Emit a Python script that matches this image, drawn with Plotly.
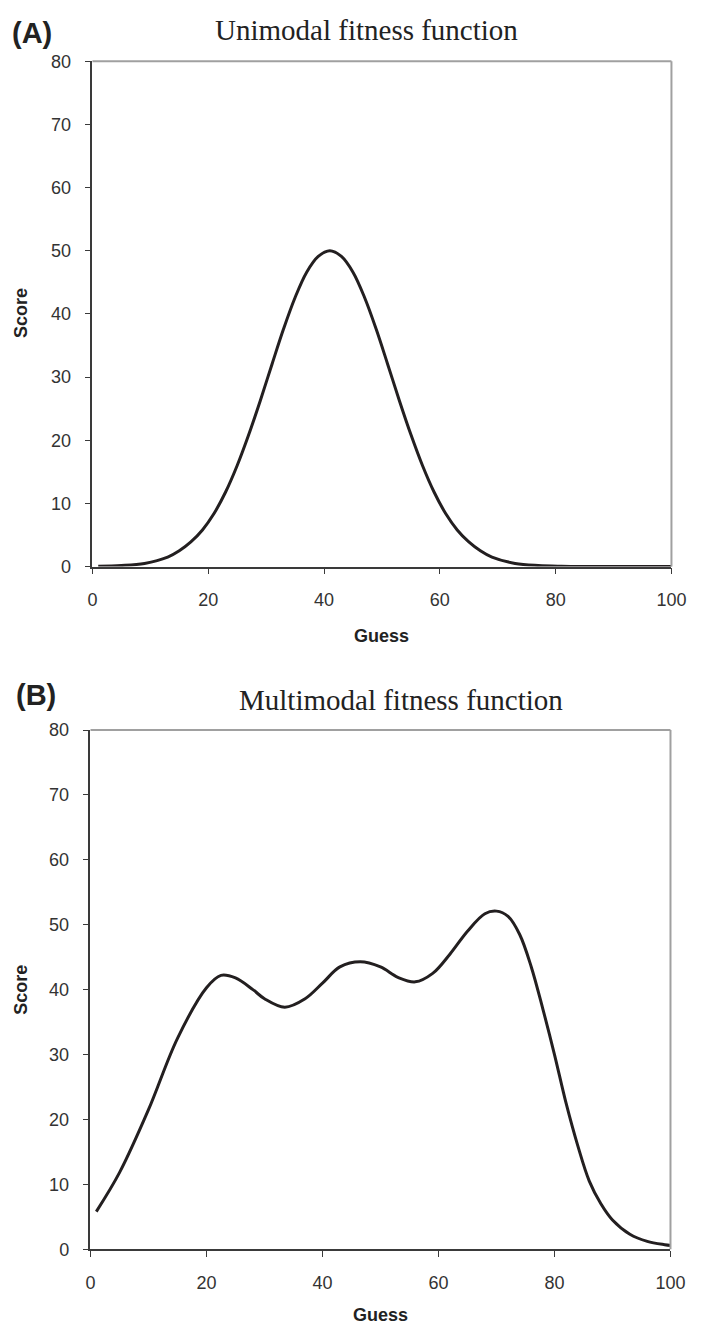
import plotly.graph_objects as go

# Panel A: unimodal fitness function
guess_a = [1, 5, 9, 13, 15, 17, 19, 21, 23, 25, 27, 29, 31, 33, 35, 37, 39, 41,
           43, 45, 47, 49, 51, 53, 55, 57, 59, 61, 63, 65, 67, 69, 73, 77, 81, 85, 90, 95, 101]
score_a = [0.04, 0.16, 0.5, 1.5, 2.5, 3.9, 5.8, 8.4, 11.8, 16.0, 20.9, 26.3, 32.0, 37.6, 42.6, 46.6, 49.1, 50.0,
           49.1, 46.6, 42.6, 37.6, 32.0, 26.3, 20.9, 16.0, 11.8, 8.4, 5.8, 3.9, 2.5, 1.5, 0.5, 0.16, 0.04, 0.0, 0.0, 0.0, 0.0]

# Panel B: multimodal fitness function
guess_b = [1, 5, 10, 15, 20, 22.5, 25, 28, 30, 33.5, 37, 40, 43, 46.5, 50, 53, 56, 59,
           62, 65, 68, 70, 72, 74, 76, 78, 80, 82, 84, 86, 88, 90, 93, 96, 99, 101]
score_b = [5.8, 11.8, 21.5, 32.5, 40.3, 42.2, 41.8, 40.0, 38.6, 37.3, 38.6, 41.0, 43.5, 44.3, 43.5, 41.9, 41.2, 42.5,
           45.5, 49.0, 51.7, 52.1, 51.3, 48.5, 43.5, 37.0, 30.0, 22.5, 16.0, 10.5, 7.0, 4.5, 2.3, 1.2, 0.7, 0.5]

x_ticks = [0, 20, 40, 60, 80, 100]
y_ticks = [0, 10, 20, 30, 40, 50, 60, 70, 80]
titles = ["Unimodal fitness function", "Multimodal fitness function"]
panel_labels = ["(A)", "(B)"]

W, H = 702, 1339
def px(x): return x / W
def py(y): return 1 - y / H

fig = go.Figure()
line_style = dict(color="#231f20", width=3, shape="spline", smoothing=1.0)
fig.add_trace(go.Scatter(x=guess_a, y=score_a, mode="lines", line=line_style,
                         xaxis="x", yaxis="y", showlegend=False))
fig.add_trace(go.Scatter(x=guess_b, y=score_b, mode="lines", line=line_style,
                         xaxis="x2", yaxis="y2", showlegend=False))

axis_common = dict(showgrid=False, zeroline=False, showline=True, linecolor="#3a3a3a",
                   linewidth=1.5, ticks="outside", ticklen=6, tickcolor="#3a3a3a", tickwidth=1.2,
                   tickfont=dict(family="Arial, Liberation Sans", size=18, color="#333333"))

fig.update_layout(
    width=W, height=H, margin=dict(l=0, r=0, t=0, b=0),
    paper_bgcolor="white", plot_bgcolor="white",
    xaxis=dict(domain=[px(90), px(686)], anchor="y", range=[0, 100], tickvals=x_ticks,
               ticklabelstandoff=10, **axis_common),
    yaxis=dict(domain=[py(565), py(52)], anchor="x", range=[0, 80], tickvals=y_ticks,
               ticklabelstandoff=10, **axis_common),
    xaxis2=dict(domain=[px(88), px(685)], anchor="y2", range=[0, 100], tickvals=x_ticks,
                ticklabelstandoff=10, **axis_common),
    yaxis2=dict(domain=[py(1258), py(731)], anchor="x2", range=[0, 80], tickvals=y_ticks,
                ticklabelstandoff=10, **axis_common),
)

# top and right borders (gray)
for xa, ya in [("x", "y"), ("x2", "y2")]:
    fig.add_shape(type="line", xref=f"{xa} domain", yref=f"{ya} domain", x0=0, x1=1, y0=1, y1=1,
                  line=dict(color="#a0a0a0", width=2))
    fig.add_shape(type="line", xref=f"{xa} domain", yref=f"{ya} domain", x0=1, x1=1, y0=0, y1=1,
                  line=dict(color="#a0a0a0", width=2))

bold = dict(family="Arial, Liberation Sans", size=18, color="#222222")
serif = dict(family="Liberation Serif, Times New Roman, serif", size=29, color="#222222")
plab = dict(family="Arial, Liberation Sans", size=29, color="#222222")

ann = []
# Panel A
ann.append(dict(x=px(388), y=py(635), text="<b>Guess</b>", font=bold))
ann.append(dict(x=px(17), y=py(308), text="<b>Score</b>", font=bold, textangle=-90))
ann.append(dict(x=px(372), y=py(20), text=titles[0], font=serif))
ann.append(dict(x=px(28), y=py(23), text="<b>" + panel_labels[0] + "</b>", font=plab))
# Panel B
ann.append(dict(x=px(386), y=py(1325), text="<b>Guess</b>", font=bold))
ann.append(dict(x=px(17), y=py(995), text="<b>Score</b>", font=bold, textangle=-90))
ann.append(dict(x=px(408), y=py(700), text=titles[1], font=serif))
ann.append(dict(x=px(32), y=py(695), text="<b>" + panel_labels[1] + "</b>", font=plab))
for a in ann:
    a.update(xref="paper", yref="paper", showarrow=False, xanchor="center", yanchor="middle")
fig.update_layout(annotations=ann)

fig.write_html("out.html")
